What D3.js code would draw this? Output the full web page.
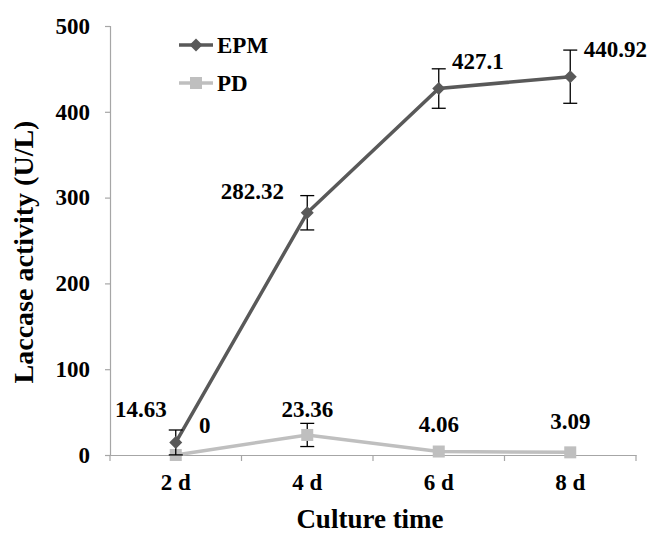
<!DOCTYPE html>
<html>
<head>
<meta charset="utf-8">
<script src="https://cdn.jsdelivr.net/npm/d3@7"></script>
<style>
  body { margin: 0; background: #fff; }
  svg text { font-family: "Liberation Serif", "Times New Roman", serif; font-weight: bold; fill: #000; }
</style>
</head>
<body>
<div id="chart"></div>
<script>
// chart data
const days = ['2 d', '4 d', '6 d', '8 d'];
const epmValues = [14.63, 282.32, 427.1, 440.92];
const epmErrors = [14.5, 20, 23, 31];
const pdValues = [0, 23.36, 4.06, 3.09];
const pdErrors = [0, 13.5, 0, 0];
const yTicks = [0, 100, 200, 300, 400, 500];

const width = 652, height = 536;
const margin = { top: 26, right: 16, bottom: 81, left: 110 };

const svg = d3.select('#chart')
  .append('svg')
    .attr('width', width)
    .attr('height', height);

const x = d3.scaleBand()
  .domain(days)
  .range([margin.left, width - margin.right]);

const y = d3.scaleLinear()
  .domain([0, 500])
  .range([height - margin.bottom, margin.top]);

// y axis
const yAxis = svg.append('g')
  .attr('transform', 'translate(' + margin.left + ',0)')
  .call(d3.axisLeft(y).tickValues(yTicks).tickSize(5).tickPadding(15));
yAxis.select('.domain').attr('stroke', '#a6a6a6').attr('stroke-width', 1.2);
yAxis.selectAll('.tick line').attr('stroke', '#a6a6a6').attr('stroke-width', 1.2);
yAxis.selectAll('.tick text').style('font-size', '23px').attr('fill', '#000');

// x axis, ticks between categories
const xAxis = svg.append('g')
  .attr('transform', 'translate(0,' + y(0) + ')')
  .call(d3.axisBottom(x).tickSize(0).tickPadding(19).tickSizeOuter(0));
xAxis.select('.domain').attr('stroke', '#a6a6a6').attr('stroke-width', 1.2);
xAxis.selectAll('.tick text').style('font-size', '23px').attr('fill', '#000');

const bounds = days.map(d => x(d)).concat([x(days[days.length - 1]) + x.bandwidth()]);
svg.append('g').selectAll('line')
  .data(bounds)
  .enter()
  .append('line')
  .attr('x1', d => d).attr('x2', d => d)
  .attr('y1', y(0)).attr('y2', y(0) + 6)
  .attr('stroke', '#a6a6a6').attr('stroke-width', 1.2);

const cx = d => x(d) + x.bandwidth() / 2;

// titles
svg.append('text')
  .attr('x', 370)
  .attr('y', 528)
  .attr('text-anchor', 'middle')
  .style('font-size', '27px')
  .text('Culture time');

svg.append('text')
  .attr('transform', 'translate(33,252) rotate(-90)')
  .attr('text-anchor', 'middle')
  .style('font-size', '28px')
  .text('Laccase activity (U/L)');

function drawErrors(values, errors) {
  const g = svg.append('g').attr('stroke', '#000').attr('stroke-width', 1.3);
  days.forEach((d, i) => {
    if (!errors[i]) { return; }
    const px = cx(d);
    g.append('line').attr('x1', px).attr('x2', px)
      .attr('y1', y(values[i] + errors[i])).attr('y2', y(Math.max(0, values[i] - errors[i])));
    g.append('line').attr('x1', px - 7).attr('x2', px + 7)
      .attr('y1', y(values[i] + errors[i])).attr('y2', y(values[i] + errors[i]));
    if (values[i] - errors[i] > 0) {
      g.append('line').attr('x1', px - 7).attr('x2', px + 7)
        .attr('y1', y(values[i] - errors[i])).attr('y2', y(values[i] - errors[i]));
    }
  });
}

const line = d3.line()
  .x((v, i) => cx(days[i]))
  .y(v => y(v));

// PD series
svg.append('path')
  .datum(pdValues)
  .attr('fill', 'none')
  .attr('stroke', '#bfbfbf')
  .attr('stroke-width', 3.5)
  .attr('d', line);
drawErrors(pdValues, pdErrors);
svg.append('g').selectAll('rect')
  .data(pdValues)
  .enter()
  .append('rect')
  .attr('x', (v, i) => cx(days[i]) - 6)
  .attr('y', v => y(v) - 6)
  .attr('width', 12).attr('height', 12)
  .attr('fill', '#bfbfbf');

// EPM series
svg.append('path')
  .datum(epmValues)
  .attr('fill', 'none')
  .attr('stroke', '#595959')
  .attr('stroke-width', 3.5)
  .attr('d', line);
drawErrors(epmValues, epmErrors);
svg.append('g').selectAll('path')
  .data(epmValues)
  .enter()
  .append('path')
  .attr('transform', (v, i) => 'translate(' + cx(days[i]) + ',' + y(v) + ') rotate(45)')
  .attr('d', d3.symbol().type(d3.symbolSquare).size(85))
  .attr('fill', '#595959');

// data labels (baseline offsets from the point)
const epmLabelOffsets = [[-35, -25], [-55, -14], [39, -20], [45, -20]];
const pdLabelOffsets = [[29, -22], [0, -18], [0, -20], [0, -23]];
svg.append('g').selectAll('text')
  .data(epmValues)
  .enter()
  .append('text')
  .attr('x', (v, i) => cx(days[i]) + epmLabelOffsets[i][0])
  .attr('y', (v, i) => y(v) + epmLabelOffsets[i][1])
  .attr('text-anchor', 'middle')
  .style('font-size', '23px')
  .text(v => v);
svg.append('g').selectAll('text')
  .data(pdValues)
  .enter()
  .append('text')
  .attr('x', (v, i) => cx(days[i]) + pdLabelOffsets[i][0])
  .attr('y', (v, i) => y(v) + pdLabelOffsets[i][1])
  .attr('text-anchor', 'middle')
  .style('font-size', '23px')
  .text(v => v);

// legend
const legend = svg.append('g');
legend.append('line').attr('x1', 179).attr('x2', 213).attr('y1', 45).attr('y2', 45)
  .attr('stroke', '#595959').attr('stroke-width', 3.5);
legend.append('path').attr('transform', 'translate(196,45) rotate(45)')
  .attr('d', d3.symbol().type(d3.symbolSquare).size(85)).attr('fill', '#595959');
legend.append('text').attr('x', 217).attr('y', 53).style('font-size', '23px').text('EPM');
legend.append('line').attr('x1', 179).attr('x2', 213).attr('y1', 83).attr('y2', 83)
  .attr('stroke', '#bfbfbf').attr('stroke-width', 3.5);
legend.append('rect').attr('x', 190).attr('y', 77).attr('width', 12).attr('height', 12)
  .attr('fill', '#bfbfbf');
legend.append('text').attr('x', 217).attr('y', 91).style('font-size', '23px').text('PD');
</script>
</body>
</html>
